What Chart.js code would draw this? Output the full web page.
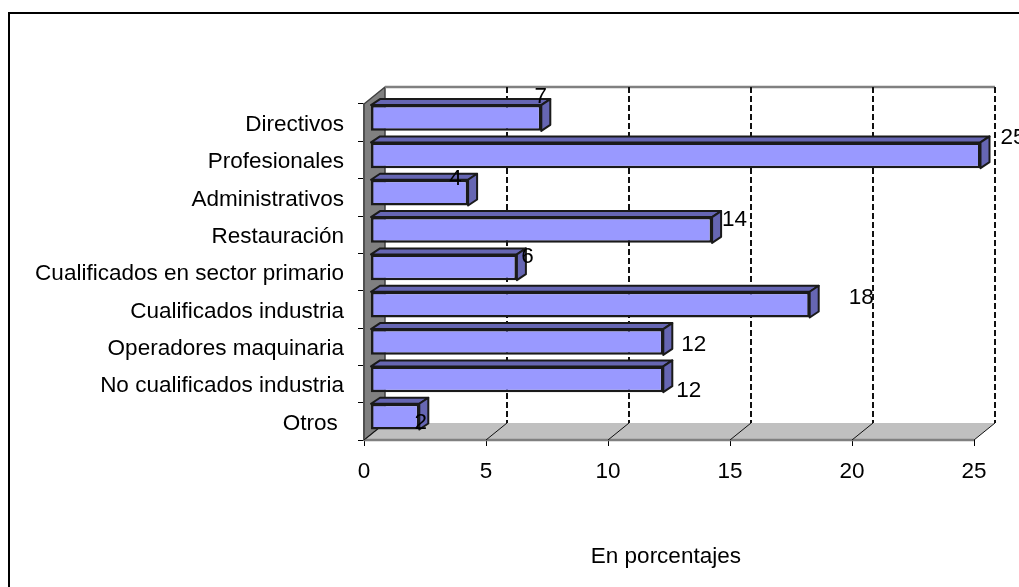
<!DOCTYPE html>
<html>
<head>
<meta charset="utf-8">
<script src="https://cdn.jsdelivr.net/npm/chart.js@4"></script>
<style>
html, body { margin: 0; padding: 0; background: #fff; }
canvas { display: block; }
</style>
</head>
<body>
<canvas id="myChart" width="1019" height="587"></canvas>
<script>
const categories = ['Directivos', 'Profesionales', 'Administrativos', 'Restauración', 'Cualificados en sector primario', 'Cualificados industria', 'Operadores maquinaria', 'No cualificados industria', 'Otros '];
const values = [7, 25, 4, 14, 6, 18, 12, 12, 2];
const xTicks = [0, 5, 10, 15, 20, 25];
const xTitle = 'En porcentajes ';

// label nudges from the bar end, the original has them placed by hand
const labelNudge = [[6, -26], [39, -22], [-6, -19], [29, -15], [17, -15], [58, -12], [37, -2], [32, 7], [8, 1]];

const wallDepth = [21, -17];
const barShift = [6.5, -4.7];
const barDepth = [9, -6];
const font = '"Liberation Sans", Arial, sans-serif';
const fontSize = 22.5;

function poly(c, pts, fill, stroke, width) {
    c.beginPath();
    pts.forEach((p, i) => i ? c.lineTo(p[0], p[1]) : c.moveTo(p[0], p[1]));
    c.closePath();
    if (fill) { c.fillStyle = fill; c.fill(); }
    if (stroke) { c.strokeStyle = stroke; c.lineWidth = width; c.lineJoin = 'round'; c.stroke(); }
}

const box3d = {
    id: 'box3d',
    beforeDatasetsDraw(chart) {
        const c = chart.ctx, a = chart.chartArea, x = chart.scales.x;
        const dx = wallDepth[0], dy = wallDepth[1];
        c.save();
        // floor
        poly(c, [[a.left, a.bottom], [a.left + dx, a.bottom + dy], [a.right + dx, a.bottom + dy], [a.right, a.bottom]], '#c0c0c0', null);
        // left wall
        poly(c, [[a.left, a.top], [a.left + dx, a.top + dy], [a.left + dx, a.bottom + dy], [a.left, a.bottom]], '#808080', '#404040', 1.5);
        c.strokeStyle = '#808080';
        c.lineWidth = 2.5;
        c.beginPath();
        c.moveTo(a.left, a.bottom);
        c.lineTo(a.right, a.bottom);
        c.moveTo(a.left + dx, a.top + dy);
        c.lineTo(a.right + dx, a.top + dy);
        c.stroke();
        // back wall gridlines and floor diagonals
        c.strokeStyle = '#111';
        xTicks.forEach(v => {
            const px = x.getPixelForValue(v);
            if (v > 0) {
                c.lineWidth = 2;
                c.setLineDash([6, 3]);
                c.beginPath();
                c.moveTo(px + dx, a.top + dy);
                c.lineTo(px + dx, a.bottom + dy);
                c.stroke();
                c.setLineDash([]);
            }
            c.lineWidth = 1;
            c.beginPath();
            c.moveTo(px, a.bottom);
            c.lineTo(px + dx, a.bottom + dy);
            c.stroke();
        });
        c.restore();
    },
    beforeDatasetDraw(chart) {
        const c = chart.ctx;
        c.save();
        c.translate(barShift[0], barShift[1]);
        chart.getDatasetMeta(0).data.forEach(bar => {
            const top = bar.y - bar.height / 2, bottom = bar.y + bar.height / 2;
            const l = bar.base, r = bar.x, dx = barDepth[0], dy = barDepth[1];
            poly(c, [[l, top], [l + dx, top + dy], [r + dx, top + dy], [r, top]], '#6666b3', '#1a1a1a', 2);
            poly(c, [[r, top], [r + dx, top + dy], [r + dx, bottom + dy], [r, bottom]], '#6666b3', '#1a1a1a', 2);
        });
    },
    afterDatasetDraw(chart) {
        chart.ctx.restore();
    },
    afterDatasetsDraw(chart) {
        const c = chart.ctx;
        c.save();
        c.fillStyle = '#000';
        c.font = fontSize + 'px ' + font;
        c.textAlign = 'center';
        c.textBaseline = 'middle';
        chart.getDatasetMeta(0).data.forEach((bar, i) => {
            c.fillText(String(values[i]), bar.x + labelNudge[i][0], bar.y + labelNudge[i][1]);
        });
        c.restore();
    }
};

const frame = {
    id: 'frame',
    beforeDraw(chart) {
        const c = chart.ctx;
        c.save();
        c.strokeStyle = '#000';
        c.lineWidth = 2;
        c.strokeRect(9, 13, 1030, 600);
        c.restore();
    }
};

new Chart(document.getElementById('myChart'), {
    type: 'bar',
    data: {
        labels: categories,
        datasets: [{
            data: values,
            backgroundColor: '#9999ff',
            borderColor: '#1a1a1a',
            borderWidth: 2.5,
            borderSkipped: false,
            barPercentage: 0.69,
            categoryPercentage: 1
        }]
    },
    options: {
        indexAxis: 'y',
        responsive: false,
        animation: false,
        layout: { padding: { left: 0, right: 45, top: 104, bottom: 0 } },
        plugins: { legend: { display: false }, tooltip: { enabled: false } },
        scales: {
            y: {
                grid: { display: true, offset: true, drawOnChartArea: false, color: '#000', tickLength: 6, drawTicks: true },
                border: { color: '#808080', width: 2 },
                ticks: { color: '#000', font: { family: font, size: fontSize }, padding: 14, autoSkip: false, labelOffset: 2 },
                afterFit(scale) { scale.width = 364; }
            },
            x: {
                min: 0,
                max: 25,
                grid: { drawOnChartArea: false, color: '#000', tickLength: 6 },
                border: { display: false },
                ticks: { stepSize: 5, color: '#000', font: { family: font, size: fontSize }, padding: 12, maxRotation: 0 },
                title: { display: true, text: xTitle, color: '#000', font: { family: font, size: fontSize }, padding: { top: 33, bottom: 17 } },
                afterFit(scale) { scale.height = 147; }
            }
        }
    },
    plugins: [frame, box3d]
});
</script>
</body>
</html>
